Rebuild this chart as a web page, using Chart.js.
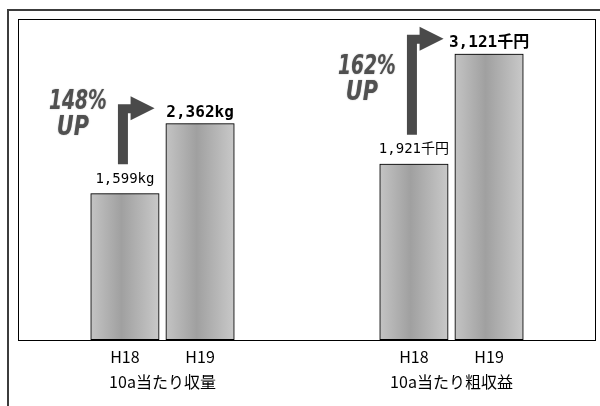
<!DOCTYPE html>
<html>
<head>
<meta charset="utf-8">
<script src="https://cdn.jsdelivr.net/npm/chart.js@4"></script>
<style>
html,body{margin:0;padding:0;background:#fff}
#wrap{width:600px;height:406px;position:relative}
</style>
</head>
<body>
<div id="wrap"><canvas id="c"></canvas></div>
<script>
const GROUPS = ["10a当たり収量", "10a当たり粗収益"];
const YEARS = ["H18", "H19"];
const H18_VALUES = [1599, 1921];
const H19_VALUES = [2362, 3121];
const UNITS = ["kg", "千円"];
const GROWTH = ["148%", "162%"];
const Y_MAX = 3500;

const JP = "'Noto Sans CJK JP', sans-serif";
const MONO = "'DejaVu Sans Mono', 'Noto Sans CJK JP', monospace";
const HEAVY = "'DejaVu Sans', sans-serif";
const fmt = (v) => v.toLocaleString("en-US");

function squeezeText(c, txt, x, y, sx){
  c.save();
  c.translate(x, y);
  c.scale(sx, 1);
  c.fillText(txt, 0, 0);
  c.restore();
}

const decor = {
  id: "decor",
  beforeDraw(chart){
    const c = chart.ctx;
    c.save();
    c.fillStyle = "#fff";
    c.fillRect(0, 0, chart.width, chart.height);
    // outer frame (only top/left are inside the picture)
    c.strokeStyle = "#3c3c3c"; c.lineWidth = 2;
    c.beginPath(); c.moveTo(8, chart.height + 2); c.lineTo(8, 10); c.lineTo(chart.width + 2, 10); c.stroke();
    c.restore();
  },
  beforeDatasetsDraw(chart){
    const c = chart.ctx;
    c.save();
    chart.data.datasets.forEach((ds, di) => {
      chart.getDatasetMeta(di).data.forEach(bar => {
        const l = bar.x - bar.width / 2, r = bar.x + bar.width / 2;
        const g = c.createLinearGradient(l, 0, r, 0);
        g.addColorStop(0, "#c4c4c4");
        g.addColorStop(0.45, "#a0a0a0");
        g.addColorStop(1, "#c9c9c9");
        c.fillStyle = g;
        c.fillRect(l, bar.y, bar.width, bar.base - bar.y);
      });
    });
    c.restore();
  },
  afterDatasetsDraw(chart){
    const c = chart.ctx, a = chart.chartArea;
    c.save();
    // plot frame
    c.strokeStyle = "#000"; c.lineWidth = 1;
    c.strokeRect(a.left + 0.5, a.top + 0.5, a.right - a.left - 1, a.bottom - a.top);

    const m0 = chart.getDatasetMeta(0).data, m1 = chart.getDatasetMeta(1).data;
    c.textAlign = "center"; c.textBaseline = "middle"; c.fillStyle = "#000";

    // year labels under each bar
    c.font = "16px " + JP;
    [m0, m1].forEach((meta, di) => meta.forEach(bar => c.fillText(YEARS[di], bar.x, a.bottom + 17)));

    GROUPS.forEach((g, i) => {
      const b0 = m0[i], b1 = m1[i];
      const yA = b0.y - 14, yB = b1.y - 11;
      c.fillStyle = "#000";
      c.font = "14px " + MONO;
      c.fillText(fmt(H18_VALUES[i]) + UNITS[i], b0.x, yA);
      c.font = "bold 16px " + MONO;
      c.fillText(fmt(H19_VALUES[i]) + UNITS[i], b1.x, yB);

      // bent arrow
      const sL = b0.x - 7, sR = b0.x + 3;
      const sB = yA - 15, sT = yB - 8;
      const apex = b1.x - b1.width / 2 - 11;
      const hb = Math.max(sR, apex - 24);
      c.fillStyle = "#4a4a4a";
      c.beginPath();
      c.moveTo(sL, sB); c.lineTo(sL, sT); c.lineTo(hb, sT); c.lineTo(hb, sT - 8);
      c.lineTo(apex, sT + 4); c.lineTo(hb, sT + 16); c.lineTo(hb, sT + 9);
      c.lineTo(sR, sT + 9); c.lineTo(sR, sB); c.closePath();
      c.fill();

      // growth text
      const ty = sT / 2 + 50;
      c.fillStyle = "#505050";
      c.shadowColor = "rgba(0,0,0,0.3)"; c.shadowBlur = 1.5;
      c.font = "italic bold 26px " + HEAVY;
      squeezeText(c, GROWTH[i], sL - 40, ty, 0.72);
      squeezeText(c, "UP", sL - 45, ty + 26, 0.8);
      c.shadowBlur = 0; c.shadowColor = "transparent";
    });
    c.restore();
  }
};

new Chart(document.getElementById("c"), {
  type: "bar",
  data: {
    labels: GROUPS,
    datasets: [
      { label: YEARS[0], data: H18_VALUES, backgroundColor: "rgba(0,0,0,0)", borderColor: "#000", borderWidth: 1, borderSkipped: false },
      { label: YEARS[1], data: H19_VALUES, backgroundColor: "rgba(0,0,0,0)", borderColor: "#000", borderWidth: 1, borderSkipped: false }
    ]
  },
  options: {
    responsive: true,
    maintainAspectRatio: false,
    animation: false,
    layout: { padding: { left: 18, right: 4, top: 19, bottom: 0 } },
    datasets: { bar: { categoryPercentage: 0.52, barPercentage: 0.918 } },
    plugins: { legend: { display: false }, tooltip: { enabled: false }, colors: { enabled: false } },
    scales: {
      y: { display: false, min: 0, max: Y_MAX },
      x: {
        grid: { display: false, drawTicks: false },
        border: { display: false },
        ticks: { color: "#000", font: { family: JP, size: 16 }, padding: 32, maxRotation: 0, autoSkip: false },
        afterFit(s){ s.height = 66; }
      }
    }
  },
  plugins: [decor]
});
</script>
</body>
</html>
